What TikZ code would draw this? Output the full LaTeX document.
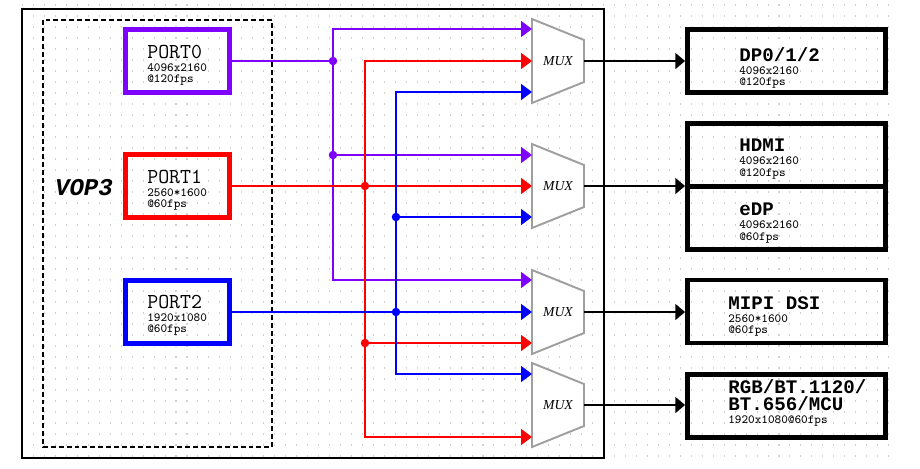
\documentclass[tikz,border=0pt]{standalone}
\usepackage{fontspec}
\usepackage{xcolor}
\usepackage{tikz}
\usetikzlibrary{arrows.meta}

\newfontfamily\codefont{Liberation Mono}
\newfontfamily\muxfont{Liberation Serif}
\newcommand{\titlefont}{\ttfamily\fontsize{12.1}{13}\selectfont}
\newcommand{\specfont}{\ttfamily\fontsize{7.1}{6.4}\selectfont}
\newcommand{\busfont}{\codefont\bfseries\fontsize{10.9}{11.5}\selectfont}

\definecolor{vio}{RGB}{128,0,255}

\tikzset{
  portbox/.style={draw, line width=2.8pt, minimum width=2.08cm, minimum height=1.26cm, inner sep=0pt},
  outbox/.style={draw=black, line width=2.8pt, minimum width=3.96cm, minimum height=1.26cm, inner sep=0pt},
  infotext/.style={anchor=north west, align=left, inner sep=0pt, font=\specfont},
  wire/.style={line width=1.1pt},
  feed/.style={wire, -{Triangle[length=6.2pt, width=9pt]}},
  outfeed/.style={wire, -{Triangle[length=5.5pt, width=9pt]}},
  jdot/.style={circle, inner sep=0pt, minimum size=0.17cm},
  muxbody/.style={draw=gray!75, line width=1.1pt, fill=white},
  muxlabel/.style={font=\muxfont\itshape\fontsize{7.8}{8}\selectfont},
}

\begin{document}
\begin{tikzpicture}[x=0.02cm, y=-0.02cm, >=stealth]
\useasboundingbox (0,0) rectangle (920,468);
\fill[white] (0,0) rectangle (920,468);

% dotted background grid
\foreach \gy in {5,16,...,462} {
  \draw[gray!35, line width=0.6pt, dash pattern=on 0.6pt off 5.64pt] (22,\gy) -- (890,\gy);
}

%--- SoC frame ---
\draw[line width=1.4pt] (22,9) rectangle (604,458);
\draw[line width=1.1pt, dash pattern=on 2.8pt off 1.7pt] (43,20) rectangle (272,447);
\node[font=\codefont\bfseries\itshape\fontsize{13.7}{14}\selectfont] (vop) at (84,188) {VOP3};

%--- Ports ---
\node[portbox, draw=vio] (port0) at (177.5,61) {};
\node[portbox, draw=red] (port1) at (177.5,186) {};
\node[portbox, draw=blue] (port2) at (177.5,312) {};
\node[infotext] (port0txt) at (147,45) {{\titlefont PORT0}\\[1pt]4096x2160\\@120fps};
\node[infotext] (port1txt) at (147,170) {{\titlefont PORT1}\\[1pt]2560*1600\\@60fps};
\node[infotext] (port2txt) at (147,295) {{\titlefont PORT2}\\[1pt]1920x1080\\@60fps};

%--- Multiplexers ---
\foreach \m/\yc in {1/61, 2/186, 3/312, 4/405} {
  \draw[muxbody] (532,\yc-42) -- (584,\yc-21) -- (584,\yc+21) -- (532,\yc+42) -- cycle;
  \node[muxlabel] (mux\m) at (558,\yc) {MUX};
  \coordinate (mux\m o) at (584,\yc);
}

% mux inputs
\coordinate (m1a) at (532,29);  \coordinate (m1b) at (532,61);  \coordinate (m1c) at (532,92);
\coordinate (m2a) at (532,155); \coordinate (m2b) at (532,186); \coordinate (m2c) at (532,217);
\coordinate (m3a) at (532,280); \coordinate (m3b) at (532,312); \coordinate (m3c) at (532,343);
\coordinate (m4a) at (532,374); \coordinate (m4c) at (532,437);

% junctions
\coordinate (pA) at (333,61);  \coordinate (pB) at (333,155);
\coordinate (rA) at (365,186); \coordinate (rB) at (365,343);
\coordinate (bA) at (396,217); \coordinate (bB) at (396,312);

% PORT0 routing
\draw[wire, vio] (port0.east) -- (pA);
\draw[feed, vio] (pA) |- (m1a);
\draw[feed, vio] (pA) |- (m3a);
\draw[feed, vio] (pB) -- (m2a);

% PORT1 routing
\draw[feed, red] (port1.east) -- (m2b);
\draw[feed, red] (rA) |- (m1b);
\draw[feed, red] (rA) |- (m4c);
\draw[feed, red] (rB) -- (m3c);

% PORT2 routing
\draw[feed, blue] (port2.east) -- (m3b);
\draw[feed, blue] (bB) |- (m1c);
\draw[feed, blue] (bB) |- (m4a);
\draw[feed, blue] (bA) -- (m2c);

\foreach \j/\c in {pA/vio, pB/vio, rA/red, rB/red, bA/blue, bB/blue} {
  \node[jdot, fill=\c] (\j dot) at (\j) {};
}

%--- Display interfaces ---
\node[outbox] (dp) at (786.5,61) {};
\node[outbox] (hdmi) at (786.5,155) {};
\node[outbox] (edp) at (786.5,218) {};
\node[outbox] (mipi) at (786.5,311.5) {};
\node[outbox] (rgb) at (786.5,406) {};

\node[infotext] (dptxt) at (739,47) {{\busfont DP0/1/2}\\[1pt]4096x2160\\@120fps};
\node[infotext] (hdmitxt) at (739,139) {{\busfont HDMI}\\[1pt]4096x2160\\@120fps};
\node[infotext] (edptxt) at (739,203) {{\busfont eDP}\\[1pt]4096x2160\\@60fps};
\node[infotext] (mipitxt) at (728,296) {{\busfont MIPI DSI}\\[1pt]2560*1600\\@60fps};
\node[infotext] (rgbtxt) at (728,379) {{\busfont RGB/BT.1120/}\\[1pt]{\busfont BT.656/MCU}\\[1pt]1920x1080@60fps};

\draw[outfeed] (mux1o) -- (mux1o -| dp.west);
\draw[outfeed] (mux2o) -- (mux2o -| hdmi.west);
\draw[outfeed] (mux3o) -- (mux3o -| mipi.west);
\draw[outfeed] (mux4o) -- (mux4o -| rgb.west);
\end{tikzpicture}
\end{document}
